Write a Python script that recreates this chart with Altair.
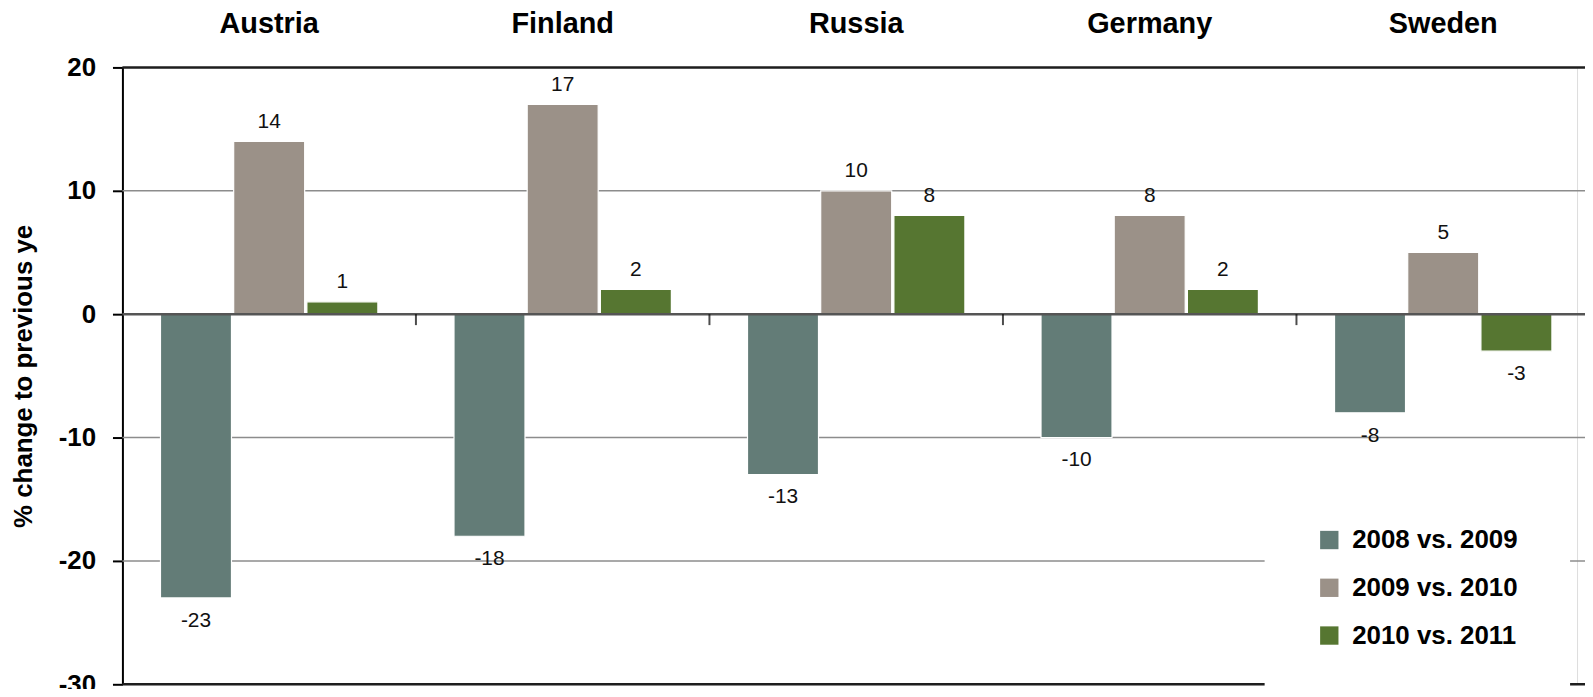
import altair as alt
import pandas as pd

countries = ["Austria", "Finland", "Russia", "Germany", "Sweden"]
series_names = ["2008 vs. 2009", "2009 vs. 2010", "2010 vs. 2011"]
s_2008_09 = [-23, -18, -13, -10, -8]
s_2009_10 = [14, 17, 10, 8, 5]
s_2010_11 = [1, 2, 8, 2, -3]
colors = ["#637C77", "#9B9188", "#567631"]
y_ticks = [-30, -20, -10, 0, 10, 20]
grid_vals = [10, -10, -20]
frame_vals = [20, -30]
boundary_countries = countries[1:]

rows = []
for name, vals in zip(series_names, [s_2008_09, s_2009_10, s_2010_11]):
    for c, v in zip(countries, vals):
        rows.append({"country": c, "series": name, "value": v})
df = pd.DataFrame(rows)

FONT = "Liberation Sans"
W = 1462
H = 620

x_scale = alt.Scale(domain=countries, range=[0, 1475], paddingInner=0, paddingOuter=0)
y_scale = alt.Scale(domain=[-30, 20], nice=False, zero=False)
xo_scale = alt.Scale(domain=series_names, paddingInner=0.03, paddingOuter=0.52)
color_scale = alt.Scale(domain=series_names, range=colors)

grid = alt.Chart(pd.DataFrame({"v": grid_vals})).mark_rule(color="#8C8C8C", strokeWidth=1.5).encode(
    y=alt.Y("v:Q", scale=y_scale), x=alt.value(0), x2=alt.value(W + 8)
)
frame = alt.Chart(pd.DataFrame({"v": frame_vals})).mark_rule(color="#1E1E1E", strokeWidth=2.5).encode(
    y=alt.Y("v:Q", scale=y_scale), x=alt.value(0), x2=alt.value(W + 8)
)

bars = alt.Chart(df).mark_bar(stroke="white", strokeWidth=1.2).encode(
    x=alt.X("country:N", scale=x_scale, sort=countries,
            axis=alt.Axis(orient="top", title=None, labelAngle=0, ticks=False, domain=False,
                          labelFont=FONT, labelFontSize=29, labelFontWeight="bold",
                          labelColor="black", labelPadding=29)),
    xOffset=alt.XOffset("series:N", scale=xo_scale, sort=series_names),
    y=alt.Y("value:Q", scale=y_scale,
            axis=alt.Axis(values=y_ticks, grid=False, title="% change to previous ye",
                          labelExpr="'' + datum.value",
                          labelFont=FONT, labelFontSize=26, labelFontWeight="bold",
                          labelColor="black", labelPadding=17,
                          tickColor="black", tickWidth=2, tickSize=10,
                          domainColor="black", domainWidth=2,
                          titleFont=FONT, titleFontSize=26, titleFontWeight="bold",
                          titleColor="black", titlePadding=22, titleLimit=600)),
    color=alt.Color("series:N", scale=color_scale, sort=series_names,
                    legend=alt.Legend(title=None, orient="none", legendX=1148, legendY=410,
                                      symbolType="square", symbolSize=340, symbolStrokeWidth=0,
                                      labelFont=FONT, labelFontSize=26, labelFontWeight="bold",
                                      labelColor="black", labelOffset=10, rowPadding=22,
                                      labelLimit=400, padding=52, fillColor="white")),
)

zero = alt.Chart(pd.DataFrame({"v": [0]})).mark_rule(color="#555555", strokeWidth=2.5).encode(
    y=alt.Y("v:Q", scale=y_scale), x=alt.value(0), x2=alt.value(W + 8)
)

ticks = alt.Chart(pd.DataFrame({"country": boundary_countries, "v": [0] * len(boundary_countries)})).mark_tick(
    orient="vertical", size=11, thickness=2, color="black", yOffset=5.5
).encode(
    x=alt.X("country:N", scale=x_scale, sort=countries, bandPosition=0),
    y=alt.Y("v:Q", scale=y_scale),
)

base_text = alt.Chart(df).transform_calculate(label="'' + datum.value").encode(
    x=alt.X("country:N", scale=x_scale, sort=countries),
    xOffset=alt.XOffset("series:N", scale=xo_scale, sort=series_names),
    y=alt.Y("value:Q", scale=y_scale),
    text=alt.Text("label:N"),
)
pos_text = base_text.transform_filter("datum.value >= 0").mark_text(
    font=FONT, fontSize=21, color="#111111", baseline="middle", dy=-20
)
neg_text = base_text.transform_filter("datum.value < 0").mark_text(
    font=FONT, fontSize=21, color="#111111", baseline="middle", dy=23
)

chart = alt.layer(grid, frame, bars, zero, ticks, pos_text, neg_text).properties(
    width=W, height=H,
    autosize=alt.AutoSizeParams(type="none"),
    padding={"left": 115, "top": 58, "right": 8, "bottom": 3},
).configure_view(stroke=None).configure(background="white")

chart.save("out.html", embed_options={"renderer": "svg", "actions": False})
